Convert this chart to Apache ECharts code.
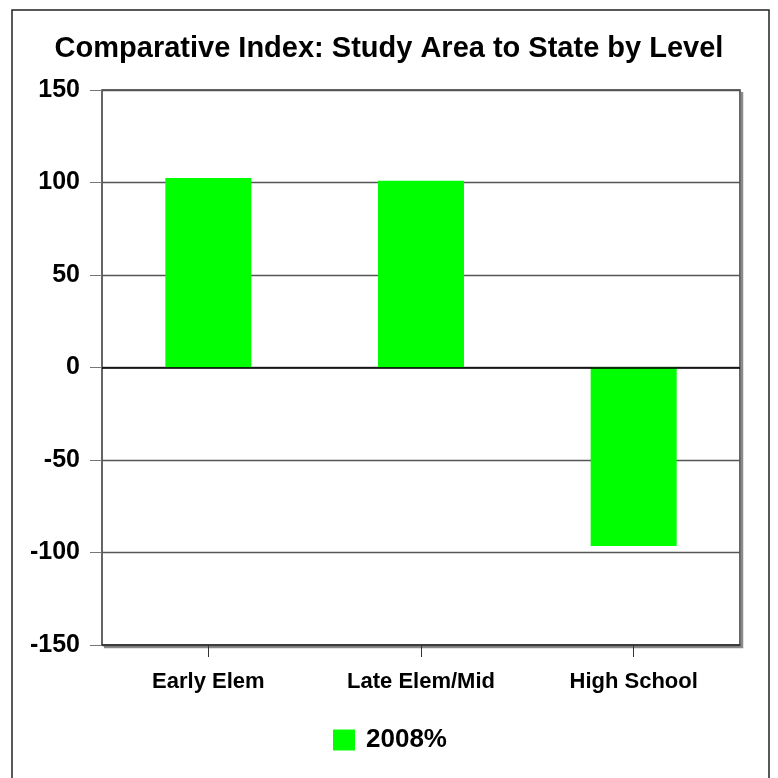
<!DOCTYPE html>
<html>
<head>
    <meta charset="utf-8">
    <title>Comparative Index</title>
    <script src="https://cdn.jsdelivr.net/npm/echarts@6/dist/echarts.min.js"></script>
    <style>
        html, body { margin: 0; padding: 0; background: #fff; }
        #main { width: 778px; height: 778px; }
    </style>
</head>
<body>
    <div id="main"></div>
    <script>
        const levels = ['Early Elem', 'Late Elem/Mid', 'High School'];
        const index2008 = [102.5, 101, -96.5];
        const seriesName = '2008%';
        const yMin = -150, yMax = 150, yStep = 50;

        const chart = echarts.init(document.getElementById('main'));
        const font = 'Liberation Sans, Arial, sans-serif';

        chart.setOption({
            backgroundColor: '#fff',
            animation: false,
            title: {
                text: 'Comparative Index: Study Area to State by Level',
                left: 'center',
                top: 29,
                textStyle: { fontFamily: font, fontSize: 29, fontWeight: 'bold', color: '#000' }
            },
            legend: {
                data: [seriesName],
                left: 333,
                top: 727,
                padding: 0,
                itemWidth: 22,
                itemHeight: 21,
                icon: 'rect',
                textStyle: { fontFamily: font, fontSize: 26, fontWeight: 'bold', color: '#000', padding: [0, 0, 0, 6] }
            },
            // outer frame and the plot-area drop shadow
            graphic: [{
                type: 'rect',
                shape: { x: 12, y: 10, width: 757, height: 790 },
                style: { fill: 'none', stroke: '#222', lineWidth: 1.5 },
                silent: true
            }, {
                type: 'polyline',
                shape: { points: [[742, 92], [742, 647], [104, 647]] },
                style: { fill: 'none', stroke: '#8a8a8a', lineWidth: 2.5 },
                silent: true
            }],
            grid: {
                left: 102, right: 38, top: 90, bottom: 133,
                show: true,
                backgroundColor: '#fff',
                borderColor: '#333',
                borderWidth: 1.5
            },
            xAxis: {
                type: 'category',
                data: levels,
                axisLine: { onZero: false, lineStyle: { color: '#333', width: 1.5 } },
                axisTick: { show: true, alignWithLabel: true, length: 12, lineStyle: { color: '#333' } },
                axisLabel: { margin: 26, fontFamily: font, fontSize: 22, fontWeight: 'bold', color: '#000' },
                splitLine: { show: false }
            },
            yAxis: {
                type: 'value',
                min: yMin, max: yMax, interval: yStep,
                axisLine: { show: false },
                axisTick: { show: true, length: 12, lineStyle: { color: '#777' } },
                axisLabel: { margin: 22, fontFamily: font, fontSize: 25, fontWeight: 'bold', color: '#000' },
                splitLine: { lineStyle: { color: '#555', width: 1.3 } }
            },
            series: [{
                name: seriesName,
                type: 'bar',
                data: index2008,
                barWidth: 86,
                itemStyle: { color: '#00ff00' },
                markLine: {
                    silent: true,
                    symbol: 'none',
                    label: { show: false },
                    lineStyle: { color: '#000', width: 1.5, type: 'solid' },
                    data: [{ yAxis: 0 }]
                }
            }]
        });
    </script>
</body>
</html>
